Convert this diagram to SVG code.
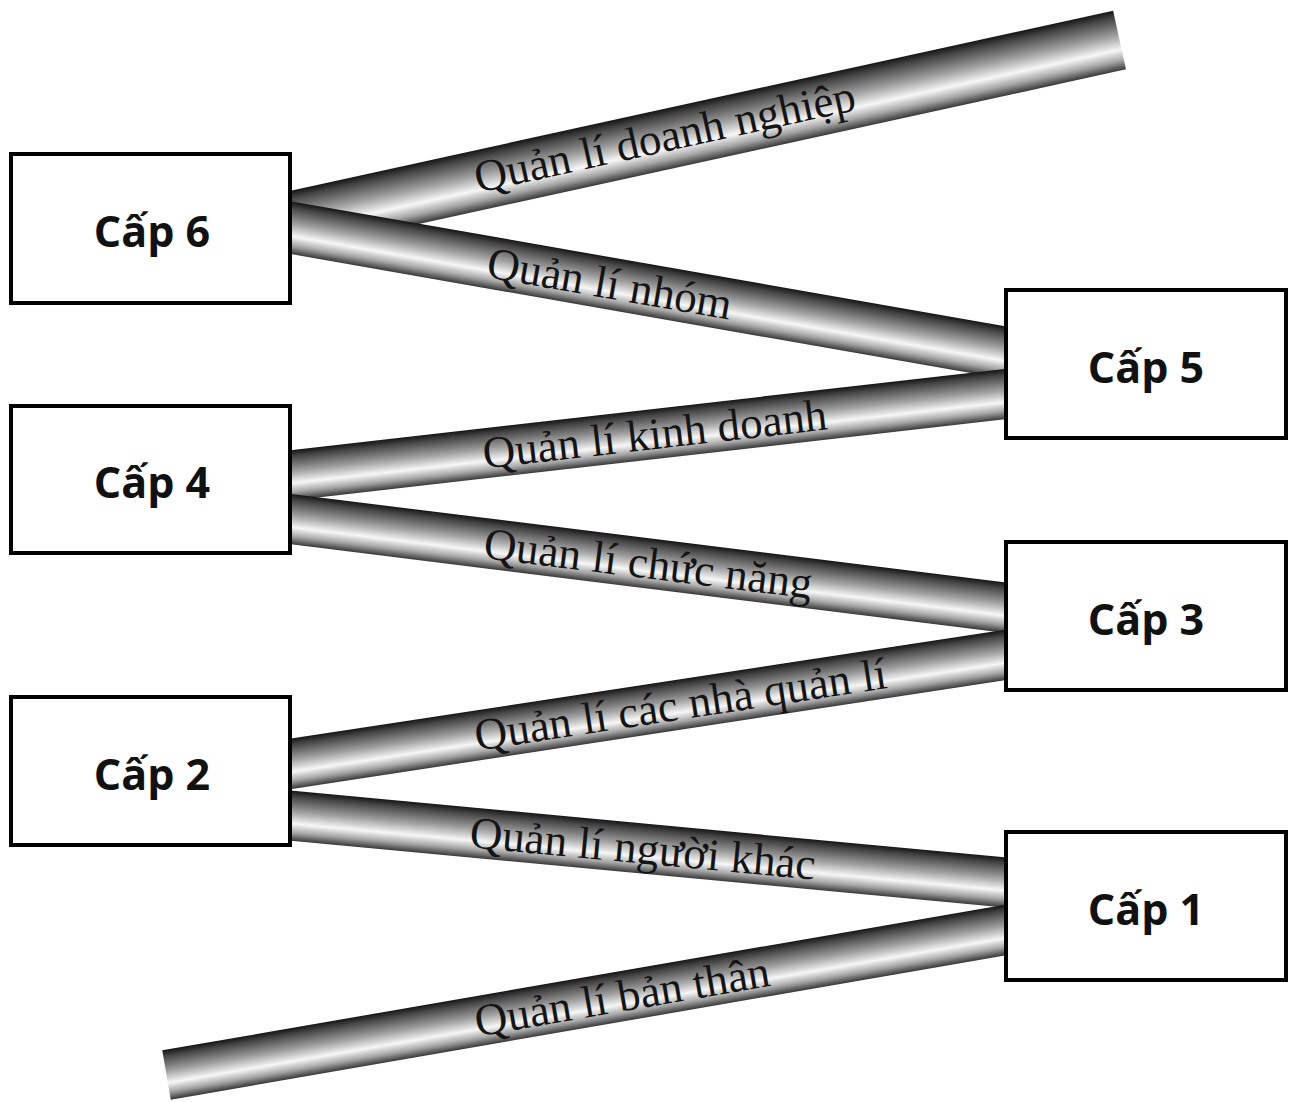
<svg xmlns="http://www.w3.org/2000/svg" width="1290" height="1102" viewBox="0 0 1290 1102">
<defs>
<linearGradient id="pipe" x1="0" y1="0" x2="0" y2="1">
<stop offset="0" stop-color="#151515"/>
<stop offset="0.12" stop-color="#444"/>
<stop offset="0.42" stop-color="#a0a0a0"/>
<stop offset="0.66" stop-color="#f7f7f7"/>
<stop offset="0.84" stop-color="#a4a4a4"/>
<stop offset="1" stop-color="#383838"/>
</linearGradient>
</defs>
<style>
.pipe{fill:url(#pipe)}
.plabel{font-family:"Liberation Serif","Times New Roman",serif;font-size:45px;fill:#141414}
.box{fill:#fff;stroke:#000;stroke-width:4}
.blabel{font-family:"Open Sans","Noto Sans",sans-serif;font-weight:bold;font-size:43px;fill:#111;text-anchor:middle}
</style>
<rect width="1290" height="1102" fill="#fff"/>
<g id="connectors">
<g id="pipe7" transform="translate(280,223.7) rotate(-12.34)">
<rect class="pipe" x="0" y="-30" width="859.4" height="60"/>
<text class="plabel" x="200" y="12">Quản lí doanh nghiệp</text>
</g>
<g id="pipe6" transform="translate(280,225.75) rotate(9.93)">
<rect class="pipe" x="0" y="-26" width="761.4" height="52"/>
<text class="plabel" x="211" y="15">Quản lí nhóm</text>
</g>
<g id="pipe5" transform="translate(280,476.6) rotate(-6.49)">
<rect class="pipe" x="0" y="-25" width="754.8" height="50"/>
<text class="plabel" x="204" y="15">Quản lí kinh doanh</text>
</g>
<g id="pipe4" transform="translate(280,517.8) rotate(7.06)">
<rect class="pipe" x="0" y="-25" width="755.7" height="50"/>
<text class="plabel" x="206" y="15">Quản lí chức năng</text>
</g>
<g id="pipe3" transform="translate(280,765.5) rotate(-8.67)">
<rect class="pipe" x="0" y="-25" width="758.7" height="50"/>
<text class="plabel" x="197" y="15">Quản lí các nhà quản lí</text>
</g>
<g id="pipe2" transform="translate(280,814.6) rotate(5.35)">
<rect class="pipe" x="0" y="-25" width="753.3" height="50"/>
<text class="plabel" x="191" y="15">Quản lí người khác</text>
</g>
<g id="pipe1" transform="translate(166.5,1075) rotate(-9.81)">
<rect class="pipe" x="0" y="-25" width="876.3" height="50"/>
<text class="plabel" x="313" y="15">Quản lí bản thân</text>
</g>
</g>
<g id="cap6"><rect class="box" x="11" y="154" width="279" height="149"/><text class="blabel" x="152" y="247">Cấp 6</text></g>
<g id="cap5"><rect class="box" x="1006" y="290" width="280" height="148"/><text class="blabel" x="1146" y="383">Cấp 5</text></g>
<g id="cap4"><rect class="box" x="11" y="406" width="279" height="147"/><text class="blabel" x="152" y="498">Cấp 4</text></g>
<g id="cap3"><rect class="box" x="1006" y="542" width="280" height="148"/><text class="blabel" x="1146" y="635">Cấp 3</text></g>
<g id="cap2"><rect class="box" x="11" y="697" width="279" height="148"/><text class="blabel" x="152" y="790">Cấp 2</text></g>
<g id="cap1"><rect class="box" x="1006" y="832" width="280" height="148"/><text class="blabel" x="1146" y="925">Cấp 1</text></g>
</svg>
